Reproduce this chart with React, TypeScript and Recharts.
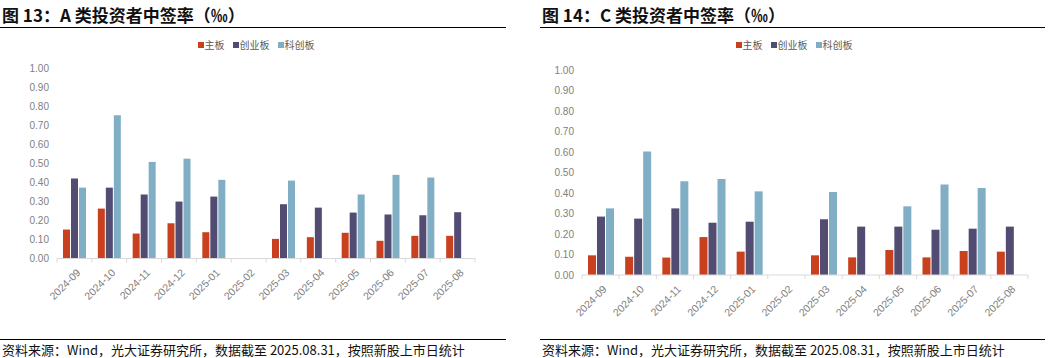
import React from 'react';
import { BarChart, Bar, XAxis, YAxis } from 'recharts';

const months = [
  '2024-09', '2024-10', '2024-11', '2024-12', '2025-01', '2025-02',
  '2025-03', '2025-04', '2025-05', '2025-06', '2025-07', '2025-08',
];

// A 类投资者中签率（‰）
const aMain = [0.152, 0.262, 0.131, 0.185, 0.138, null, 0.103, 0.112, 0.135, 0.093, 0.119, 0.119];
const aChiNext = [0.42, 0.372, 0.336, 0.299, 0.325, null, 0.285, 0.267, 0.241, 0.231, 0.227, 0.243];
const aStar = [0.372, 0.752, 0.507, 0.524, 0.413, null, 0.409, null, 0.336, 0.439, 0.425, null];

// C 类投资者中签率（‰）
const cMain = [0.096, 0.089, 0.085, 0.185, 0.114, null, 0.096, 0.086, 0.122, 0.086, 0.117, 0.114];
const cChiNext = [0.285, 0.275, 0.325, 0.255, 0.26, null, 0.272, 0.236, 0.236, 0.221, 0.226, 0.236];
const cStar = [0.325, 0.602, 0.457, 0.468, 0.408, null, 0.405, null, 0.335, 0.441, 0.424, null];

const yTicks = [0, 0.1, 0.2, 0.3, 0.4, 0.5, 0.6, 0.7, 0.8, 0.9, 1.0];

const seriesNames = ['主板', '创业板', '科创板'];
const colors = ['#C9401E', '#524C72', '#80AEC4'];

const buildRows = (main: (number | null)[], chi: (number | null)[], star: (number | null)[]) =>
  months.map((m, i) => ({ month: m, main: main[i], chi: chi[i], star: star[i] }));

const tickFont = { fontFamily: 'Liberation Sans, Arial, sans-serif', fontSize: 10, fill: '#808080' };
const cjk = '"Noto Sans CJK SC", "Noto Sans", sans-serif';

// rotated label + small tick marks at the category boundaries (Excel style)
const XTick = (props: any) => {
  const { x, y, payload, index, band } = props;
  const half = band / 2;
  return (
    <g>
      <line x1={x - half} x2={x - half} y1={y - 8} y2={y - 4} stroke="#D9D9D9" />
      {index === months.length - 1 && (
        <line x1={x + half} x2={x + half} y1={y - 8} y2={y - 4} stroke="#D9D9D9" />
      )}
      <text
        x={x + 4}
        y={y + 4}
        transform={`rotate(-45, ${x + 4}, ${y + 4})`}
        textAnchor="end"
        dominantBaseline="central"
        style={{ ...tickFont, fontSize: 10.5 }}
        fill="#808080"
      >
        {payload.value}
      </text>
    </g>
  );
};

const LegendRow = ({ center }: { center: number }) => (
  <div
    style={{
      position: 'absolute', top: 37, left: center - 100, width: 200,
      display: 'flex', justifyContent: 'center', alignItems: 'center',
      fontFamily: cjk, fontSize: 10, color: '#595959', gap: 8,
    }}
  >
    {seriesNames.map((n, i) => (
      <div key={n} style={{ display: 'flex', alignItems: 'center' }}>
        <span style={{ display: 'inline-block', width: 6, height: 6, background: colors[i], marginRight: 1 }} />
        <span>{n}</span>
      </div>
    ))}
  </div>
);

const Panel = (p: {
  left: number; title: string; rows: any[]; yWidth: number; width: number;
  marginRight: number; marginTop: number; plotHeight: number; barSize: number;
  textLeft: number; lineLeft: number; lineWidth: number; legendCenter: number;
}) => {
  const band = (p.width - p.marginRight - p.yWidth) / months.length;
  return (
    <>
      <div style={{ position: 'absolute', left: p.textLeft, top: 4, fontFamily: cjk, fontWeight: 700, fontSize: 17, color: '#111', whiteSpace: 'nowrap', lineHeight: '22px' }}>
        {p.title}
      </div>
      <div style={{ position: 'absolute', left: p.lineLeft, top: 27, width: p.lineWidth, height: 1, background: '#000' }} />
      <LegendRow center={p.legendCenter} />
      <div style={{ position: 'absolute', left: p.left, top: 30 }}>
        <BarChart
          width={p.width}
          height={310}
          data={p.rows}
          margin={{ top: p.marginTop, right: p.marginRight, left: 0, bottom: 0 }}
          barGap={1}
          barSize={p.barSize}
        >
          <XAxis
            dataKey="month"
            interval={0}
            tickLine={false}
            axisLine={{ stroke: '#D9D9D9' }}
            tick={<XTick band={band} />}
            height={310 - (p.marginTop + p.plotHeight)}
          />
          <YAxis
            width={p.yWidth}
            domain={[0, 1]}
            ticks={yTicks}
            interval={0}
            axisLine={false}
            tickLine={false}
            tick={tickFont}
            tickFormatter={(v: number) => v.toFixed(2)}
          />
          <Bar dataKey="main" name={seriesNames[0]} fill={colors[0]} isAnimationActive={false} />
          <Bar dataKey="chi" name={seriesNames[1]} fill={colors[1]} isAnimationActive={false} />
          <Bar dataKey="star" name={seriesNames[2]} fill={colors[2]} isAnimationActive={false} />
        </BarChart>
      </div>
      <div style={{ position: 'absolute', left: p.lineLeft, top: 339, width: p.lineWidth, height: 1, background: '#000' }} />
      <div style={{ position: 'absolute', left: p.textLeft, top: 341, fontFamily: cjk, fontSize: 13, color: '#111', whiteSpace: 'nowrap', lineHeight: '17px' }}>
        资料来源：Wind，光大证券研究所，数据截至 2025.08.31，按照新股上市日统计
      </div>
    </>
  );
};

export default function App() {
  return (
    <div style={{ position: 'absolute', left: 0, top: 0, width: 1049, height: 358, background: '#fff', overflow: 'hidden' }}>
      <Panel
        left={0}
        title="图 13：A 类投资者中签率（‰）"
        rows={buildRows(aMain, aChiNext, aStar)}
        yWidth={57}
        width={520}
        marginRight={45}
        marginTop={38}
        plotHeight={190.5}
        barSize={7}
        textLeft={2}
        lineLeft={0}
        lineWidth={506}
        legendCenter={256}
      />
      <Panel
        left={530}
        title="图 14：C 类投资者中签率（‰）"
        rows={buildRows(cMain, cChiNext, cStar)}
        yWidth={52}
        width={519}
        marginRight={21}
        marginTop={40}
        plotHeight={205}
        barSize={8}
        textLeft={542}
        lineLeft={540}
        lineWidth={505}
        legendCenter={794}
      />
    </div>
  );
}
